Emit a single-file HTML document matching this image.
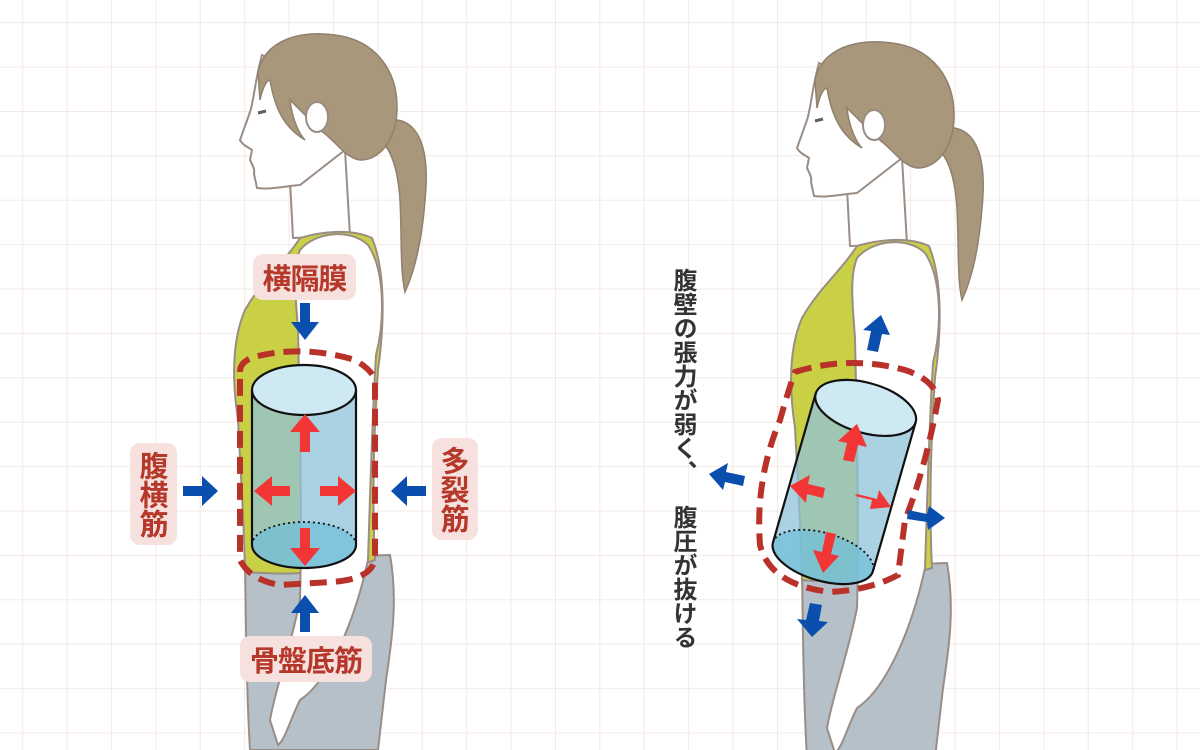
<!DOCTYPE html>
<html><head><meta charset="utf-8"><style>
html,body{margin:0;padding:0;background:#fff}
body{width:1200px;height:750px;overflow:hidden;position:relative;font-family:"Liberation Sans","Noto Sans CJK JP",sans-serif}
svg{position:absolute;left:0;top:0}
.lbl{position:absolute;background:#f6e1df;border-radius:10px;color:#b5382a;font-weight:bold;font-size:29px;text-align:center;font-family:"Noto Sans CJK JP",sans-serif;letter-spacing:-1px}
.v{writing-mode:vertical-rl;letter-spacing:0}
.vt{position:absolute;writing-mode:vertical-rl;font-family:"Noto Sans CJK JP",sans-serif;font-weight:bold;font-size:24px;color:#333;line-height:24px}
</style></head><body>
<svg width="1200" height="750" viewBox="0 0 1200 750">
<defs>
<pattern id="g" x="22.2" y="22.2" width="44.4" height="44.4" patternUnits="userSpaceOnUse">
<path d="M0 0H44.4M0 0V44.4" stroke="#f2e4de" stroke-width="1.6" fill="none"/>
</pattern>
<g id="fig">
 <path d="M245,560 L390,555 C398,600 392,640 386,680 L378,750 L250,750 C247,700 246,640 245,560Z" fill="#b5c0c8" stroke="#9a8d85" stroke-width="2"/>
 <path d="M385,120 C420,115 430,150 425,200 C422,240 415,270 405,292 C400,270 402,240 400,200 C398,170 392,150 380,140Z" fill="#a8977a" stroke="#8f8070" stroke-width="1.5"/>
 <path d="M290,180 L293,238 L350,236 L345,150Z" fill="#fff" stroke="#9a8d85" stroke-width="2"/>
 <path d="M262,55 C255,80 254,100 250,112 L240,140 C243,146 250,148 252,150 L250,160 C253,166 255,170 254,174 L257,188 C270,190 285,186 300,185 L345,150 L330,90Z" fill="#fff" stroke="#9a8d85" stroke-width="2"/>
 <path d="M258,72 C265,40 300,30 335,35 C375,40 398,70 397,110 C396,140 380,160 360,160 C345,158 335,140 320,130 C310,120 300,110 290,100 C292,120 300,135 305,140 C285,128 275,110 270,80 C266,80 262,90 260,100Z" fill="#a8977a" stroke="#8f8070" stroke-width="1.5"/>
 <ellipse cx="317" cy="117" rx="11" ry="15" fill="#fff" stroke="#9a8d85" stroke-width="2"/>
 <path d="M258,113 L266,111" stroke="#6b5f58" stroke-width="3"/>
 <path d="M300,238 C320,232 350,228 372,238 C385,270 385,320 378,370 C374,430 372,500 375,560 C330,575 280,575 245,572 C244,520 240,460 238,420 C232,380 232,340 245,310 C262,280 285,262 300,238Z" fill="#c9d046" stroke="#9a8d85" stroke-width="2"/>
 <path d="M300,250 C315,232 350,228 368,245 C385,270 385,320 376,355 C372,420 370,500 368,560 C355,620 330,680 300,700 C290,720 285,740 278,745 L270,720 C275,690 290,650 300,600 C302,520 300,420 298,330 C296,300 292,270 300,250Z" fill="#fff" stroke="#9a8d85" stroke-width="2"/>
</g>
</defs>
<rect width="1200" height="750" fill="url(#g)"/>
<use href="#fig"/>
<use href="#fig" transform="translate(557,8)"/>

<g>
 <path d="M252,390 L252,545 A52,23 0 0 0 356,545 L356,390Z" fill="#8fc3d8" fill-opacity="0.75"/>
 <ellipse cx="304" cy="545" rx="52" ry="23" fill="#6fbfdb" fill-opacity="0.7"/>
 <ellipse cx="304" cy="390" rx="52" ry="25" fill="#cfe9f2" stroke="#111" stroke-width="2.2"/>
 <path d="M252,545 A52,23 0 0 1 356,545" fill="none" stroke="#111" stroke-width="1.8" stroke-dasharray="2,3"/>
 <path d="M252,390 L252,545 A52,23 0 0 0 356,545 L356,390" fill="none" stroke="#111" stroke-width="2.2"/>
 <path d="M240,372 Q240,360 258,356 Q305,345 355,360 Q372,370 375,380 L375,560 Q370,580 330,582 L280,585 Q250,580 240,560Z" fill="none" stroke="#b8322a" stroke-width="6" stroke-dasharray="17,9"/>
 <g fill="#f23535">
  <path d="M300,452 L300,432 L290,432 L305,414 L320,432 L310,432 L310,452Z"/>
  <path d="M300,528 L300,548 L290,548 L305,566 L320,548 L310,548 L310,528Z"/>
  <path d="M290,486 L272,486 L272,476 L254,491 L272,506 L272,496 L290,496Z"/>
  <path d="M320,486 L338,486 L338,476 L356,491 L338,506 L338,496 L320,496Z"/>
 </g>
 <g fill="#0b4fae">
  <path d="M300,303 L310,303 L310,322 L319,322 L305,340 L291,322 L300,322Z"/>
  <path d="M300,632 L310,632 L310,613 L319,613 L305,595 L291,613 L300,613Z"/>
  <path d="M183,486 L202,486 L202,476 L218,491 L202,506 L202,496 L183,496Z"/>
  <path d="M426,486 L407,486 L407,476 L391,491 L407,506 L407,496 L426,496Z"/>
 </g>
</g>

<g>
 <g transform="rotate(16 845 480)">
  <path d="M793,405 L793,560 A52,24 0 0 0 897,560 L897,405Z" fill="#8fc3d8" fill-opacity="0.75"/>
  <ellipse cx="845" cy="560" rx="52" ry="24" fill="#6fbfdb" fill-opacity="0.7"/>
  <ellipse cx="845" cy="405" rx="52" ry="25" fill="#cfe9f2" stroke="#111" stroke-width="2.2"/>
  <path d="M793,560 A52,24 0 0 1 897,560" fill="none" stroke="#111" stroke-width="1.8" stroke-dasharray="2,3"/>
  <path d="M793,405 L793,560 A52,24 0 0 0 897,560 L897,405" fill="none" stroke="#111" stroke-width="2.2"/>
 </g>
 <path d="M795,372 Q850,355 905,370 Q935,380 938,400 Q925,470 905,520 L898,575 Q870,590 830,592 Q770,585 760,545 Q755,480 780,420 Q790,385 795,372Z" fill="none" stroke="#b8322a" stroke-width="6" stroke-dasharray="17,9"/>
 <g fill="#f23535">
  <path d="M843,460 L847,443 L838,441 L857,424 L867,447 L858,445 L854,462Z"/>
  <path d="M826,532 L822,552 L813,550 L823,573 L839,556 L831,554 L836,534Z"/>
  <path d="M825,488 L808,484 L810,475 L790,486 L806,503 L807,494 L823,498Z"/>
  <path d="M855,496 L872,500 L870,509 L891,507 L879,490 L877,499 L857,494Z"/>
 </g>
 <g fill="#0b4fae">
  <path d="M867,350 L871,331 L863,330 L881,315 L890,335 L882,334 L878,352Z"/>
  <path d="M745,476 L726,472 L728,463 L709,474 L723,490 L725,482 L743,486Z"/>
  <path d="M908,510 L927,514 L929,506 L945,518 L928,530 L927,522 L907,519Z"/>
  <path d="M810,603 L806,620 L797,619 L812,637 L828,622 L819,621 L822,605Z"/>
 </g>
</g>
</svg>

<div class="lbl" style="left:253px;top:254px;width:103px;height:46px;line-height:46px">横隔膜</div>
<div class="lbl v" style="left:130px;top:443px;width:47px;height:102px;line-height:47px">腹横筋</div>
<div class="lbl v" style="left:432px;top:438px;width:46px;height:102px;line-height:46px">多裂筋</div>
<div class="lbl" style="left:240px;top:636px;width:132px;height:46px;line-height:46px">骨盤底筋</div>

<div class="vt" style="left:673px;top:268px">腹壁の張力が弱く、</div>
<div class="vt" style="left:673px;top:505px">腹圧が抜ける</div>
</body></html>
